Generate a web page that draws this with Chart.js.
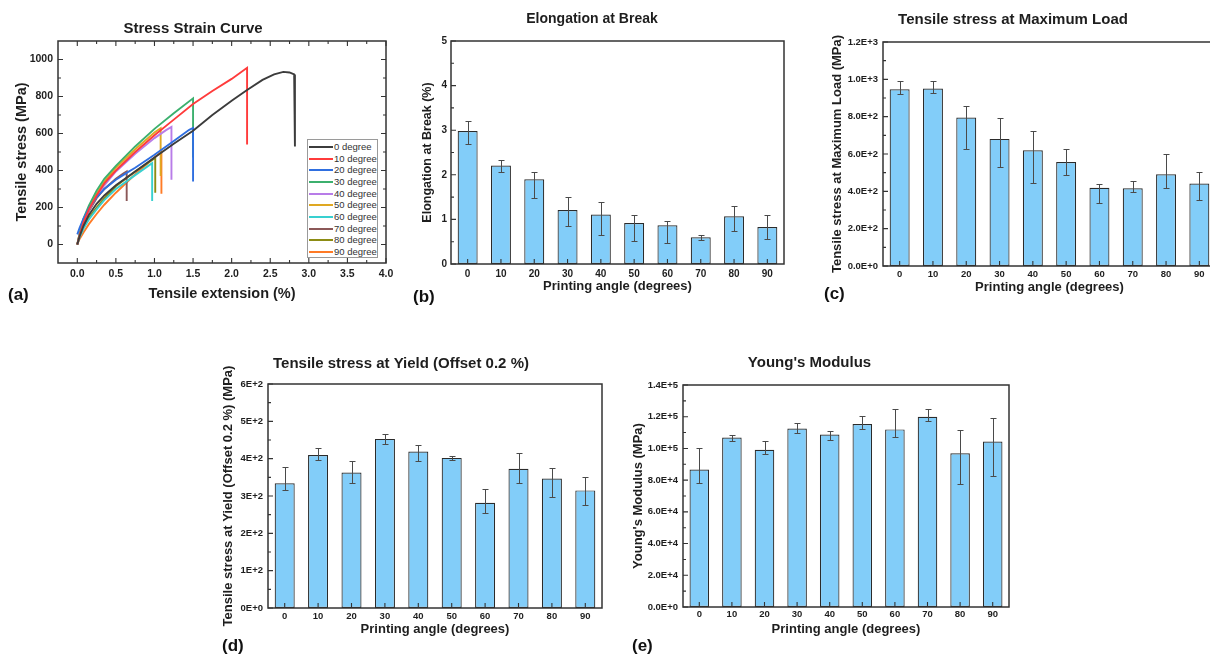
<!DOCTYPE html>
<html><head><meta charset="utf-8">
<script src="https://cdn.jsdelivr.net/npm/chart.js@4.4.1/dist/chart.umd.min.js"></script>
<style>
html,body{margin:0;padding:0;background:#fff;width:1210px;height:655px;overflow:hidden;position:relative;font-family:"Liberation Sans",Arial,sans-serif;}
canvas{position:absolute;}
.plab{position:absolute;font-weight:bold;font-size:17px;line-height:20px;color:#111;}
#legA{position:absolute;left:307px;top:139px;width:71px;height:119px;border:1px solid #9a9a9a;background:#fff;box-sizing:border-box;}
#legA .row{position:absolute;left:0;height:12px;width:70px;}
#legA .ln{position:absolute;left:1px;top:5px;width:24px;height:2px;}
#legA .tx{position:absolute;left:26px;top:0;font-size:9.5px;line-height:12px;color:#333;white-space:nowrap;}
</style></head><body>
<canvas id="ca" width="444" height="310" style="left:0;top:0"></canvas>
<canvas id="cb" width="426" height="300" style="left:400px;top:0"></canvas>
<canvas id="cc" width="474" height="300" style="left:810px;top:0"></canvas>
<canvas id="cd" width="460" height="300" style="left:200px;top:340px"></canvas>
<canvas id="ce" width="480" height="300" style="left:610px;top:340px"></canvas>
<div id="legA"></div>
<div class="plab" style="left:8px;top:285px">(a)</div>
<div class="plab" style="left:413px;top:287px">(b)</div>
<div class="plab" style="left:824px;top:284px">(c)</div>
<div class="plab" style="left:222px;top:636px">(d)</div>
<div class="plab" style="left:632px;top:636px">(e)</div>
<script>
// ---------- data ----------
const angles = ["0","10","20","30","40","50","60","70","80","90"];

// (a) stress-strain curves
const seriesNames = ["0 degree","10 degree","20 degree","30 degree","40 degree","50 degree","60 degree","70 degree","80 degree","90 degree"];
const strain0  = [0,0.03,0.08,0.15,0.25,0.35,0.5,0.75,1.0,1.25,1.5,1.75,2.0,2.2,2.4,2.55,2.67,2.75,2.81,2.82];
const stress0  = [0,45,100,160,220,265,320,395,470,545,615,700,777,835,890,920,933,930,919,530];
const strain10 = [0,0.03,0.08,0.15,0.25,0.35,0.5,0.75,1.0,1.25,1.5,1.75,2.0,2.2,2.2];
const stress10 = [0,50,120,190,265,330,400,500,590,675,760,830,895,955,540];
const strain20 = [0,0.03,0.08,0.15,0.25,0.35,0.5,0.65,0.75,1.0,1.25,1.45,1.5,1.5];
const stress20 = [55,90,140,195,255,300,350,390,415,485,560,620,630,340];
const strain30 = [0,0.03,0.08,0.15,0.25,0.35,0.5,0.75,1.0,1.25,1.5,1.5];
const stress30 = [0,60,140,210,290,355,425,530,625,710,790,470];
const strain40 = [0,0.03,0.08,0.15,0.25,0.35,0.5,0.75,1.0,1.15,1.22,1.22];
const stress40 = [0,55,120,185,260,320,395,490,575,618,635,350];
const strain50 = [0,0.03,0.08,0.15,0.25,0.35,0.5,0.75,1.0,1.08,1.08];
const stress50 = [0,60,130,200,275,340,415,515,605,628,370];
const strain60 = [0,0.03,0.08,0.15,0.25,0.35,0.5,0.75,0.97,0.97];
const stress60 = [0,40,85,135,190,240,300,375,440,235];
const strain70 = [0,0.03,0.08,0.15,0.25,0.35,0.5,0.6,0.64,0.64];
const stress70 = [0,55,115,180,250,300,355,385,395,235];
const strain80 = [0,0.03,0.08,0.15,0.25,0.35,0.5,0.75,1.0,1.01,1.01];
const stress80 = [0,45,95,145,200,250,315,395,465,468,280];
const strain90 = [0,0.03,0.08,0.15,0.25,0.35,0.5,0.75,1.0,1.09,1.09];
const stress90 = [0,30,65,110,165,215,280,380,470,500,275];
const lineColors = ["#3c3c3c","#ff3b3b","#2f6fe0","#3cb06e","#b87ce8","#dfa822","#38d0d0","#8b5858","#8c8c14","#ff7b26"];

const aXTicks = [0,0.5,1.0,1.5,2.0,2.5,3.0,3.5,4.0];
const aXLabels = ["0.0","0.5","1.0","1.5","2.0","2.5","3.0","3.5","4.0"];
const aYTicks = [0,200,400,600,800,1000];
const aYLabels = ["0","200","400","600","800","1000"];

// (b) elongation at break
const elong   = [2.98,2.21,1.90,1.21,1.11,0.92,0.87,0.60,1.07,0.83];
const elongHi = [3.21,2.33,2.07,1.50,1.40,1.09,0.96,0.64,1.31,1.10];
const elongLo = [2.68,2.06,1.48,0.85,0.64,0.52,0.48,0.54,0.75,0.55];
const bTicks = [0,1,2,3,4,5];
const bLabels = ["0","1","2","3","4","5"];

// (c) tensile stress at maximum load
const maxLoad   = [947,951,795,681,620,557,419,416,491,442];
const maxLoadHi = [992,989,856,795,722,629,441,455,598,505];
const maxLoadLo = [922,926,627,530,446,485,340,398,419,356];
const cTicks = [0,200,400,600,800,1000,1200];
const cLabels = ["0.0E+0","2.0E+2","4.0E+2","6.0E+2","8.0E+2","1.0E+3","1.2E+3"];

// (d) tensile stress at yield
const yieldS   = [334,410,363,453,419,402,282,373,347,315];
const yieldHi  = [379,429,393,465,437,407,319,415,374,352];
const yieldLo  = [316,396,335,438,393,397,255,335,297,277];
const dTicks = [0,100,200,300,400,500,600];
const dLabels = ["0E+0","1E+2","2E+2","3E+2","4E+2","5E+2","6E+2"];

// (e) Young's modulus
const modulus   = [86700,106900,99200,112600,108800,115400,112000,120000,97000,104400];
const modulusHi = [100400,108600,104800,116200,111200,120400,125000,125000,111600,119000];
const modulusLo = [78100,104800,96400,109700,105100,112200,106900,117000,77300,82700];
const eTicks = [0,20000,40000,60000,80000,100000,120000,140000];
const eLabels = ["0.0E+0","2.0E+4","4.0E+4","6.0E+4","8.0E+4","1.0E+5","1.2E+5","1.4E+5"];

// ---------- styling ----------
const FONT = '"Liberation Sans", Arial, sans-serif';
const INK = '#1e1e1e';
const BAR = '#82cdf9';
const EDGE = '#2b2b2b';
Chart.defaults.font.family = FONT;
Chart.defaults.color = INK;

const framePlugin = {
  id: 'frame',
  afterDraw(chart) {
    const o = chart.options.plugins.frame || {};
    const {ctx, chartArea: a} = chart;
    const x = chart.scales.x, y = chart.scales.y;
    ctx.save();
    ctx.strokeStyle = '#333';
    ctx.lineWidth = 1.5;
    ctx.strokeRect(a.left, a.top, a.right - a.left, a.bottom - a.top);
    ctx.lineWidth = 1.1;
    ctx.beginPath();
    const M = 5, m = 3;
    const xs = x.ticks.map((t, i) => x.getPixelForTick(i));
    xs.forEach(px => {
      ctx.moveTo(px, a.bottom); ctx.lineTo(px, a.bottom - M);
      if (o.mirror) { ctx.moveTo(px, a.top); ctx.lineTo(px, a.top + M); }
    });
    if (o.xMinor) {
      for (let i = 0; i < x.ticks.length - 1; i++) {
        const px = x.getPixelForValue((x.ticks[i].value + x.ticks[i+1].value) / 2);
        ctx.moveTo(px, a.bottom); ctx.lineTo(px, a.bottom - m);
        if (o.mirror) { ctx.moveTo(px, a.top); ctx.lineTo(px, a.top + m); }
      }
    }
    y.ticks.forEach((t) => {
      const py = y.getPixelForValue(t.value);
      ctx.moveTo(a.left, py); ctx.lineTo(a.left + M, py);
      if (o.mirror) { ctx.moveTo(a.right, py); ctx.lineTo(a.right - M, py); }
    });
    for (let i = 0; i < y.ticks.length - 1; i++) {
      const py = y.getPixelForValue((y.ticks[i].value + y.ticks[i+1].value) / 2);
      ctx.moveTo(a.left, py); ctx.lineTo(a.left + m, py);
      if (o.mirror) { ctx.moveTo(a.right, py); ctx.lineTo(a.right - m, py); }
    }
    ctx.stroke();
    ctx.restore();
  }
};

const errPlugin = {
  id: 'errbars',
  afterDatasetsDraw(chart) {
    const ds = chart.data.datasets[0];
    if (!ds || !ds.errLo) return;
    const meta = chart.getDatasetMeta(0);
    const y = chart.scales.y;
    const ctx = chart.ctx;
    ctx.save();
    ctx.strokeStyle = '#4a4a4a';
    ctx.lineWidth = 1;
    ctx.beginPath();
    meta.data.forEach((bar, i) => {
      const px = Math.round(bar.x) + 0.5;
      const yh = Math.round(y.getPixelForValue(ds.errHi[i])) + 0.5;
      const yl = Math.round(y.getPixelForValue(ds.errLo[i])) + 0.5;
      ctx.moveTo(px, yh); ctx.lineTo(px, yl);
      ctx.moveTo(px - 3, yh); ctx.lineTo(px + 3, yh);
      ctx.moveTo(px - 3, yl); ctx.lineTo(px + 3, yl);
    });
    ctx.stroke();
    ctx.restore();
  }
};
Chart.register(framePlugin, errPlugin);

function bold(size) { return {family: FONT, size: size, weight: 'bold'}; }

// ---------- (a) line chart ----------
const strains = [strain0,strain10,strain20,strain30,strain40,strain50,strain60,strain70,strain80,strain90];
const stresses = [stress0,stress10,stress20,stress30,stress40,stress50,stress60,stress70,stress80,stress90];
const chartA = new Chart(document.getElementById('ca'), {
  type: 'line',
  data: {
    datasets: seriesNames.map((name, k) => ({
      label: name,
      data: strains[k].map((sx, i) => ({x: sx, y: stresses[k][i]})),
      borderColor: lineColors[k],
      backgroundColor: lineColors[k],
      borderWidth: 1.9,
      pointRadius: 0,
      tension: 0,
      fill: false
    }))
  },
  options: {
    responsive: false, animation: false, devicePixelRatio: 1,
    layout: {padding: {left: 0, top: 0, right: 58, bottom: 0}},
    plugins: {
      legend: {display: false}, tooltip: {enabled: false},
      frame: {mirror: true, xMinor: true},
      title: {display: true, text: 'Stress Strain Curve', color: INK, font: bold(15), padding: {top: 20, bottom: 3}}
    },
    scales: {
      x: {
        type: 'linear', min: -0.25, max: 4.0,
        grid: {display: false, drawTicks: false}, border: {display: false},
        afterBuildTicks: s => { s.ticks = aXTicks.map(v => ({value: v})); },
        ticks: {color: INK, font: bold(10.5), padding: 4.7, maxRotation: 0, callback: (v, i) => aXLabels[i]},
        title: {display: true, text: 'Tensile extension (%)', color: INK, font: bold(14.5), padding: {top: 0, bottom: 7.3}},
        afterFit: s => { s.height = 47; }
      },
      y: {
        type: 'linear', min: -100, max: 1100,
        grid: {display: false, drawTicks: false}, border: {display: false},
        afterBuildTicks: s => { s.ticks = aYTicks.map(v => ({value: v})); },
        ticks: {color: INK, font: bold(10.5), padding: 5, callback: (v, i) => aYLabels[i]},
        title: {display: true, text: 'Tensile stress (MPa)', color: INK, font: bold(14.5), padding: {top: 13.3, bottom: 0}},
        afterFit: s => { s.width = 58; }
      }
    }
  }
});

// legend for (a)
const leg = document.getElementById('legA');
chartA.data.datasets.forEach((d, i) => {
  const row = document.createElement('div');
  row.className = 'row';
  row.style.top = (1 + i * 11.65) + 'px';
  row.innerHTML = '<div class="ln" style="background:' + d.borderColor + '"></div><div class="tx">' + d.label + '</div>';
  leg.appendChild(row);
});

// ---------- bar charts ----------
function barChart(id, c) {
  return new Chart(document.getElementById(id), {
    type: 'bar',
    data: {
      labels: angles,
      datasets: [{
        data: c.values, errLo: c.lo, errHi: c.hi,
        backgroundColor: BAR, borderColor: EDGE, borderWidth: 1.2, borderSkipped: false,
        barPercentage: 0.6, categoryPercentage: 1
      }]
    },
    options: {
      responsive: false, animation: false, devicePixelRatio: 1,
      layout: {padding: {left: 0, top: 0, right: c.padR, bottom: 0}},
      plugins: {
        legend: {display: false}, tooltip: {enabled: false},
        frame: {mirror: false, xMinor: false},
        title: {display: true, text: c.title, color: INK, font: bold(c.titleSize), padding: {top: c.tpT, bottom: c.tpB}}
      },
      scales: {
        x: {
          grid: {display: false, drawTicks: false}, border: {display: false},
          ticks: {color: INK, font: bold(c.xtSize), padding: c.xtPad, maxRotation: 0},
          title: {display: true, text: 'Printing angle (degrees)', color: INK, font: bold(13), padding: {top: 0, bottom: c.xPb}},
          afterFit: s => { s.height = c.xH; }
        },
        y: {
          min: 0, max: c.tickVals[c.tickVals.length - 1],
          grid: {display: false, drawTicks: false}, border: {display: false},
          afterBuildTicks: s => { s.ticks = c.tickVals.map(v => ({value: v})); },
          ticks: {color: INK, font: bold(c.ytSize), padding: c.ytPad, callback: (v, i) => c.tickLabels[i]},
          title: {display: true, text: c.yTitle, color: INK, font: bold(c.yTitleSize), padding: {top: c.yTp, bottom: 0}},
          afterFit: s => { s.width = c.yW; }
        }
      }
    }
  });
}

barChart('cb', {
  values: elong, lo: elongLo, hi: elongHi, tickVals: bTicks, tickLabels: bLabels,
  title: 'Elongation at Break', titleSize: 14, tpT: 10.6, tpB: 13.6, padR: 42,
  yTitle: 'Elongation at Break (%)', yTitleSize: 12.5, yTp: 20.5, yW: 51, ytSize: 10, ytPad: 4,
  xtSize: 10, xtPad: 4, xPb: 6.2, xH: 36
});
barChart('cc', {
  values: maxLoad, lo: maxLoadLo, hi: maxLoadHi, tickVals: cTicks, tickLabels: cLabels,
  title: 'Tensile stress at Maximum Load', titleSize: 15, tpT: 11, tpB: 13, padR: 68,
  yTitle: 'Tensile stress at Maximum Load (MPa)', yTitleSize: 13, yTp: 19.2, yW: 73, ytSize: 9.5, ytPad: 5,
  xtSize: 9.5, xtPad: 2.6, xPb: 5.2, xH: 34
});
barChart('cd', {
  values: yieldS, lo: yieldLo, hi: yieldHi, tickVals: dTicks, tickLabels: dLabels,
  title: 'Tensile stress at Yield (Offset 0.2 %)', titleSize: 15, tpT: 15, tpB: 11, padR: 58,
  yTitle: 'Tensile stress at Yield (Offset 0.2 %) (MPa)', yTitleSize: 13, yTp: 20.2, yW: 68, ytSize: 9.5, ytPad: 5,
  xtSize: 9.5, xtPad: 2.3, xPb: 3.2, xH: 32
});
barChart('ce', {
  values: modulus, lo: modulusLo, hi: modulusHi, tickVals: eTicks, tickLabels: eLabels,
  title: "Young's Modulus", titleSize: 15, tpT: 14, tpB: 13, padR: 81,
  yTitle: "Young's Modulus (MPa)", yTitleSize: 13, yTp: 20.2, yW: 73, ytSize: 9.5, ytPad: 5,
  xtSize: 9.5, xtPad: 2, xPb: 3.2, xH: 33
});
</script>
</body></html>
